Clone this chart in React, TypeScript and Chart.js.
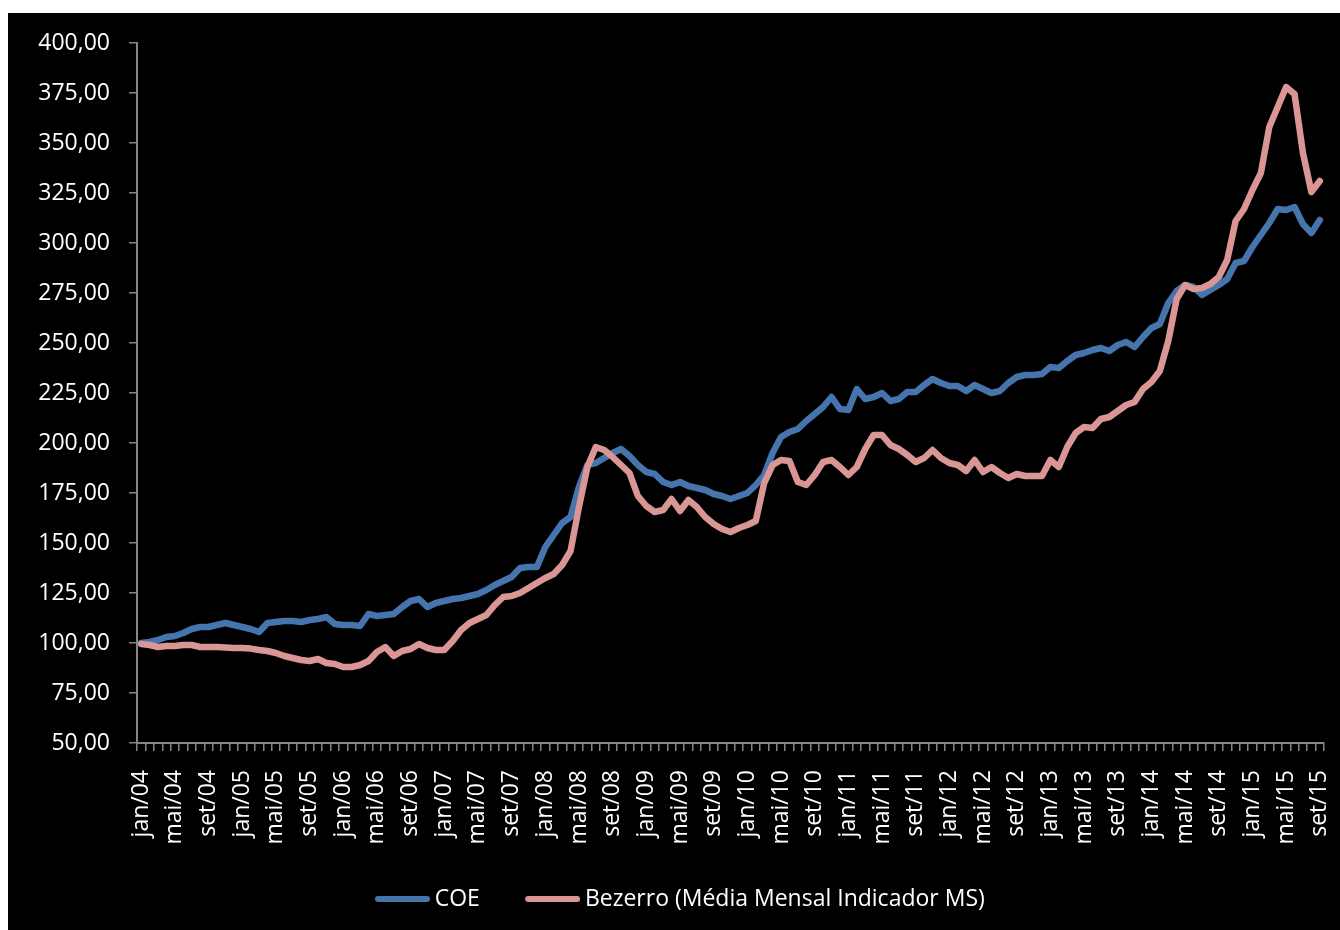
import React, { useEffect, useRef } from "react";
import { Chart, registerables } from "chart.js";

Chart.register(...registerables);

const MONTHS = ["jan", "fev", "mar", "abr", "mai", "jun", "jul", "ago", "set", "out", "nov", "dez"];
const START_YEAR = 2004;
const N_MONTHS = 141;

const categories: string[] = Array.from({ length: N_MONTHS }, (_, i) => {
  const m = MONTHS[i % 12];
  const y = String((START_YEAR + Math.floor(i / 12)) % 100).padStart(2, "0");
  return `${m}/${y}`;
});

const coe: number[] = [
  100, 100.5, 101.5, 103, 103.5, 105, 107, 108, 108, 109, 110, 109,
  108, 107, 105.5, 110, 110.5, 111, 111, 110.5, 111.5, 112, 113, 109.5,
  109, 109, 108.5, 114.5, 113.5, 114, 114.5, 118, 121, 122, 118, 120,
  121, 122, 122.5, 123.5, 124.5, 126.5, 129, 131, 133, 137.5, 138, 138,
  148, 154, 160, 163, 178, 189, 190, 192.5, 195, 197, 193.5, 189,
  185.5, 184.5, 180.5, 179, 180.5, 178.5, 177.5, 176.5, 174.5, 173.5, 172, 173.5,
  175, 179, 184, 195, 203, 205.5, 207, 211, 214.5, 218, 223, 217,
  216.5, 227, 222, 223, 225, 221, 222, 225.5, 225.5, 229, 232, 230,
  228.5, 228.5, 226, 229, 227, 225, 226, 230, 233, 234, 234, 234.5,
  238, 237.5, 241, 244, 245, 246.5, 247.5, 246, 249, 250.5, 248, 253,
  257.5, 259.5, 270, 276, 279, 278, 274, 276.5, 279, 282, 290, 291,
  298, 304, 310, 317, 316.5, 318, 309.5, 305, 311.5,
];

const bezerro: number[] = [
  99.5, 99, 98, 98.5, 98.5, 99, 99, 98, 98, 98, 97.8, 97.5,
  97.5, 97.2, 96.5, 96, 95, 93.5, 92.5, 91.5, 91, 92, 90, 89.5,
  88, 88, 89, 91, 95.5, 98, 93.5, 96, 97, 99.5, 97.5, 96.5,
  96.5, 101, 106.5, 110, 112, 114, 119, 123, 123.5, 125, 127.5, 130,
  132.5, 134.5, 139, 146, 168, 188, 198, 196.5, 193, 189, 185, 173.5,
  168.5, 165.5, 166.5, 172, 166, 171.5, 168, 163, 159.5, 157, 155.5, 157.5,
  159, 161, 180, 189, 191.5, 191, 180.5, 179, 184, 190.5, 191.5, 188,
  184, 188, 197, 204, 204, 199, 197, 194, 190.5, 192.5, 196.5, 192.5,
  190, 189, 186, 191.5, 185.5, 188, 185, 182.5, 184.5, 183.5, 183.5, 183.5,
  191.5, 188, 198, 205, 208, 207.5, 212, 213, 216, 219, 220.5, 227,
  230.5, 236, 251, 272, 279, 277, 277.5, 279.5, 283, 291.5, 311, 317,
  326.5, 335, 358, 368, 378, 374.5, 345, 325.5, 331,
];

const Y_MIN = 50;
const Y_MAX = 400;
const Y_STEP = 25;
const LABEL_EVERY = 4;

const FONT = "'Open Sans', 'DejaVu Sans', sans-serif";
const AXIS_COLOR = "#868686";
const TEXT_COLOR = "#ffffff";
const BLUE = "#4674AD";
const PINK = "#D99694";
const LINE_W = 6.5;

// legend geometry
const LEGEND_FONT = 23;
const LEGEND_PAD = 39;
const SWATCH_LEN = 55;
const SWATCH_TEXT_GAP = 5;
const ITEM_GAP = 45;
const LEGEND_BOX = SWATCH_LEN + SWATCH_TEXT_GAP + ITEM_GAP - LEGEND_FONT / 2 - LEGEND_PAD;
const SWATCH_END = LEGEND_BOX + LEGEND_FONT / 2 - SWATCH_TEXT_GAP;
const SWATCH_CANVAS_W = Math.round(2 * (SWATCH_END - LEGEND_BOX / 2));

function legendSwatch(color: string): HTMLCanvasElement {
  const c = document.createElement("canvas");
  c.width = SWATCH_CANVAS_W;
  c.height = 8;
  const ctx = c.getContext("2d");
  if (ctx) {
    ctx.strokeStyle = color;
    ctx.lineWidth = 6;
    ctx.lineCap = "round";
    ctx.beginPath();
    ctx.moveTo(SWATCH_CANVAS_W - SWATCH_LEN + 3, 4);
    ctx.lineTo(SWATCH_CANVAS_W - 3, 4);
    ctx.stroke();
  }
  return c;
}

export default function App() {
  const canvasRef = useRef<HTMLCanvasElement | null>(null);

  useEffect(() => {
    if (!canvasRef.current) return;
    const chart = new Chart(canvasRef.current, {
      type: "line",
      data: {
        labels: categories,
        datasets: [
          {
            label: "COE",
            data: coe,
            borderColor: BLUE,
            backgroundColor: BLUE,
            borderWidth: LINE_W,
            pointRadius: 0,
            pointStyle: legendSwatch(BLUE) as any,
            tension: 0,
            borderJoinStyle: "round",
            borderCapStyle: "round",
            order: 1,
          },
          {
            label: "Bezerro (Média Mensal Indicador MS)",
            data: bezerro,
            borderColor: PINK,
            backgroundColor: PINK,
            borderWidth: LINE_W,
            pointRadius: 0,
            pointStyle: legendSwatch(PINK) as any,
            tension: 0,
            borderJoinStyle: "round",
            borderCapStyle: "round",
            order: 0,
          },
        ],
      },
      options: {
        responsive: false,
        animation: false,
        devicePixelRatio: 1,
        layout: { padding: { top: 30, right: 16, bottom: 9.5, left: 21.5 } },
        plugins: {
          tooltip: { enabled: false },
          legend: {
            position: "bottom",
            labels: {
              color: TEXT_COLOR,
              font: { family: FONT, size: LEGEND_FONT },
              usePointStyle: true,
              pointStyleWidth: LEGEND_BOX,
              padding: LEGEND_PAD,
              sort: (a: any, b: any) => a.datasetIndex - b.datasetIndex,
            },
          },
        },
        scales: {
          x: {
            type: "category",
            offset: true,
            grid: {
              offset: true,
              drawOnChartArea: false,
              drawTicks: true,
              tickLength: 8,
              color: AXIS_COLOR,
              lineWidth: 1.5,
            },
            border: { color: AXIS_COLOR, width: 2 },
            ticks: {
              autoSkip: false,
              maxRotation: 90,
              minRotation: 90,
              padding: 19,
              color: TEXT_COLOR,
              font: { family: FONT, size: 23 },
              callback: (_v: any, i: number) => (i % LABEL_EVERY === 0 ? categories[i] : ""),
            },
            afterFit: (scale: any) => {
              scale.height = 105.5;
              scale.paddingLeft = 0;
              scale.paddingRight = 0;
            },
          },
          y: {
            min: Y_MIN,
            max: Y_MAX,
            grid: {
              drawOnChartArea: false,
              drawTicks: true,
              tickLength: 8,
              color: AXIS_COLOR,
              lineWidth: 1.5,
            },
            border: { color: AXIS_COLOR, width: 2 },
            ticks: {
              stepSize: Y_STEP,
              padding: 19,
              color: TEXT_COLOR,
              font: { family: FONT, size: 23 },
              callback: (v: any) => Number(v).toFixed(2).replace(".", ","),
            },
            afterFit: (scale: any) => {
              scale.width = 107.5;
              scale.paddingTop = 0;
              scale.paddingBottom = 0;
            },
          },
        },
      },
    });
    return () => chart.destroy();
  }, []);

  return (
    <div
      style={{
        position: "fixed",
        left: 8,
        top: 13,
        width: 1332,
        height: 917,
        background: "#000000",
      }}
    >
      <canvas ref={canvasRef} width={1332} height={917} style={{ display: "block" }} />
    </div>
  );
}
